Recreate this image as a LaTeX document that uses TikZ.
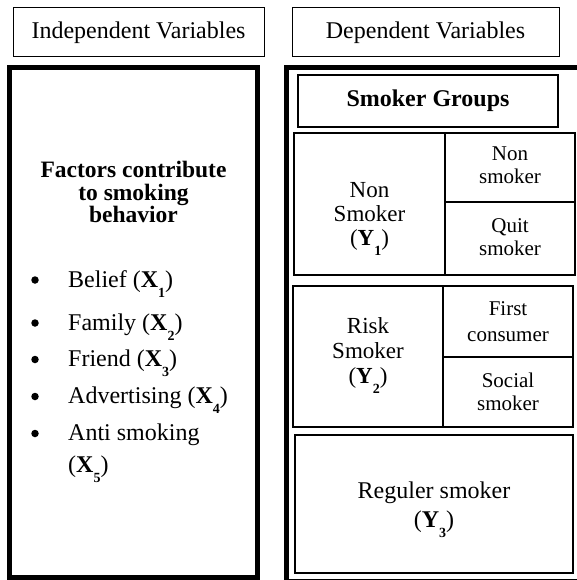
\documentclass[tikz,border=0pt]{standalone}
\usepackage{fontspec}
\setmainfont{Liberation Serif}
\usepackage{tikz}
\usetikzlibrary{positioning}

\newcommand{\lowsub}[1]{\raisebox{-10pt}{\fontsize{14}{14}\selectfont\bfseries #1}}
\newcommand{\xvar}[1]{(\textbf{X}\lowsub{#1})}
\newcommand{\yvar}[1]{(\textbf{Y}\lowsub{#1})}

\begin{document}
\begin{tikzpicture}[
    x=1pt, y=-1pt,
    headbox/.style={draw, line width=1pt, font=\fontsize{24}{24}\selectfont},
    heavybox/.style={draw, line width=5pt},
    cell/.style={draw, line width=1.2pt},
    txt/.style={inner sep=0pt, align=center, anchor=base},
    bigtxt/.style={txt, font=\fontsize{23}{24}\selectfont},
    smalltxt/.style={txt, font=\fontsize{21}{23}\selectfont},
    item/.style={inner sep=0pt, anchor=base west, align=left, font=\fontsize{24}{32}\selectfont},
    dot/.style={circle, fill, inner sep=0pt, minimum size=7.5pt},
]
\useasboundingbox (0,0) rectangle (577,580);
\clip (0,0) rectangle (577,580);

% Column headings
\node[headbox, minimum width=251pt, minimum height=49pt] (indep) at (138.5, 32.5) {Independent Variables};
\node[headbox, minimum width=267pt, minimum height=49pt] (dep) at (425.5, 32.5) {Dependent Variables};

% Outer frames
\node[heavybox, minimum width=248pt, minimum height=510pt] (left) at (133.5, 322.5) {};
\node[heavybox, minimum width=298.5pt, minimum height=513.5pt] (right) at (435.75, 324.25) {};

% Independent side (anchor base = last line)
\node[txt, font=\fontsize{23.5}{22}\selectfont\bfseries] (factors) at (133.5, 222)
    {Factors contribute\\to smoking\\behavior};

\node[dot] (d1) at (35, 280) {};
\node[dot] (d2) at (35, 323) {};
\node[dot] (d3) at (35, 359.5) {};
\node[dot] (d4) at (35, 396.5) {};
\node[dot] (d5) at (35, 433.5) {};
\node[item] (x1) at (68, 287) {Belief \xvar{1}};
\node[item] (x2) at (68, 330) {Family \xvar{2}};
\node[item] (x3) at (68, 366.5) {Friend \xvar{3}};
\node[item] (x4) at (68, 403.5) {Advertising \xvar{4}};
\node[item] (x5) at (68, 472) {Anti smoking\\\xvar{5}};

% Dependent side
\node[cell, minimum width=260pt, minimum height=52pt, font=\fontsize{24}{24}\selectfont\bfseries] (groups) at (428, 101) {Smoker Groups};

% Non smoker group
\node[cell, minimum width=151pt, minimum height=142pt] (y1) at (369.5, 204) {};
\node[cell, minimum width=130pt, minimum height=69pt] (nons) at (510, 167.5) {};
\node[cell, minimum width=130pt, minimum height=73pt] (quit) at (510, 238.5) {};
\node[bigtxt] (y1t) at (369.5, 245) {Non\\Smoker\\\yvar{1}};
\node[smalltxt] (nonst) at (510, 183) {Non\\smoker};
\node[smalltxt] (quitt) at (510, 255) {Quit\\smoker};

% Risk smoker group
\node[cell, minimum width=150pt, minimum height=141pt] (y2) at (368, 356.5) {};
\node[cell, minimum width=130pt, minimum height=71pt] (first) at (508, 321.5) {};
\node[cell, minimum width=130pt, minimum height=70pt] (social) at (508, 392) {};
\node[bigtxt, font=\fontsize{23}{25}\selectfont] (y2t) at (368, 383) {Risk\\Smoker\\\yvar{2}};
\node[smalltxt, font=\fontsize{21}{26}\selectfont] (firstt) at (508, 341) {First\\consumer};
\node[smalltxt] (socialt) at (508, 410) {Social\\smoker};

% Reguler smoker
\node[cell, minimum width=278pt, minimum height=138pt] (y3) at (434, 504) {};
\node[txt, font=\fontsize{24}{29}\selectfont] (y3t) at (434, 527) {Reguler smoker\\\yvar{3}};

\end{tikzpicture}
\end{document}
